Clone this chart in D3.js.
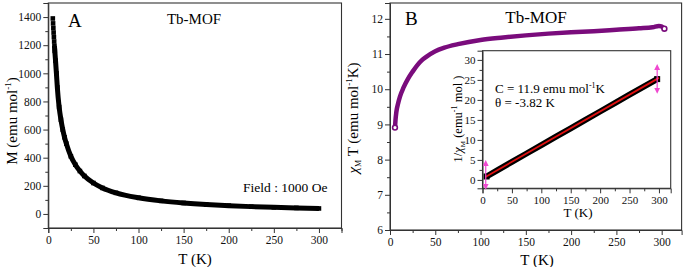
<!DOCTYPE html>
<html>
<head>
<meta charset="utf-8">
<script src="https://cdn.jsdelivr.net/npm/d3@7"></script>
<style>
  body { margin: 0; background: #fff; }
</style>
</head>
<body>
<div id="chart"></div>
<script>
//***************** data *******************/
// panel A : M vs T
var tempA = [5, 5.3, 5.6, 5.9, 6.2, 6.5, 6.8, 7.2, 8, 9, 10, 12, 14, 16, 18, 20, 25, 30, 35, 40, 50, 60, 75, 100, 125, 150, 175, 200, 225, 250, 275, 300];
var magA  = [1390, 1355, 1322, 1290, 1258, 1226, 1195, 1160, 1090, 1000, 900, 760, 670, 600, 545, 500, 410, 350, 305, 270, 220, 185, 150, 115, 93, 78, 67, 59, 52, 47, 43, 39];

// panel B : chiM*T vs T
var tempB = [5.5, 6, 7, 9, 11, 15, 20, 25, 30, 35, 40, 50, 60, 75, 100, 125, 150, 175, 200, 225, 250, 275, 290, 297, 300, 302, 303];
var chiTB = [8.91, 9.1, 9.35, 9.6, 9.79, 10.05, 10.3, 10.5, 10.68, 10.82, 10.92, 11.08, 11.18, 11.28, 11.4, 11.47, 11.53, 11.58, 11.62, 11.65, 11.69, 11.73, 11.76, 11.8, 11.78, 11.74, 11.72];

// inset : 1/chiM vs T, Curie-Weiss fit, error arrows
var tempIn = [7, 25, 50, 75, 100, 125, 150, 175, 200, 225, 250, 275, 297];
var invChi = [0.85, 2.4, 4.5, 6.6, 8.7, 10.8, 12.9, 15.0, 17.1, 19.2, 21.3, 23.4, 25.2];
var fitT   = [5, 300];
var fitInv = [0.74, 25.5];
var errT   = [5.5, 297];
var errLo  = [-1.7, 22.3];
var errHi  = [4.2, 28.2];

// tick labels
var ticksT    = [0, 50, 100, 150, 200, 250, 300];
var ticksM    = [0, 200, 400, 600, 800, 1000, 1200, 1400];
var ticksChiT = [6, 7, 8, 9, 10, 11, 12];
var ticksInv  = [0, 5, 10, 15, 20, 25, 30];

//************** setup svg  *****************/
var svg = d3.select("#chart")
  .append("svg")
    .attr("width", 685)
    .attr("height", 267);

//***************** scales *******************/
var xA = d3.scaleLinear().domain([0, 325]).range([48.3, 341.5]);
var yA = d3.scaleLinear().domain([-100, 1500]).range([228, 3]);

var xB = d3.scaleLinear().domain([0, 322]).range([390, 681.6]);
var yB = d3.scaleLinear().domain([6, 12.45]).range([230, 3]);

var xI = d3.scaleLinear().domain([0, 320]).range([482.5, 670.7]);
var yI = d3.scaleLinear().domain([-2.1, 32.3]).range([188.3, 50.7]);

//***************** axes helper *******************/
function midpoints(t) {
  var step = t[1] - t[0];
  var m = t.map(function(v) { return v - step / 2; });
  m.push(t[t.length - 1] + step / 2);
  return m;
}

function drawAxes(x, y, xt, yt, fs) {
  var xd = x.domain(), yd = y.domain();
  var inX = function(v) { return v >= xd[0] && v <= xd[1]; };
  var inY = function(v) { return v >= yd[0] && v <= yd[1]; };
  var g = svg.append("g");

  // white background + frame
  g.append("rect")
    .attr("x", x.range()[0]).attr("y", y.range()[1])
    .attr("width", x.range()[1] - x.range()[0])
    .attr("height", y.range()[0] - y.range()[1])
    .attr("fill", "#fff").attr("stroke", "#333").attr("stroke-width", 1.1);

  // minor ticks
  g.append("g")
    .attr("transform", "translate(0," + y.range()[0] + ")")
    .call(d3.axisBottom(x).tickValues(midpoints(xt).filter(inX)).tickSize(3).tickFormat(""))
    .call(function(a) { a.select(".domain").remove(); });
  g.append("g")
    .attr("transform", "translate(" + x.range()[0] + ",0)")
    .call(d3.axisLeft(y).tickValues(midpoints(yt).filter(inY)).tickSize(3).tickFormat(""))
    .call(function(a) { a.select(".domain").remove(); });

  // major ticks
  var gx = g.append("g")
    .attr("transform", "translate(0," + y.range()[0] + ")")
    .call(d3.axisBottom(x).tickValues(xt).tickSize(5).tickPadding(3).tickFormat(d3.format("d")));
  var gy = g.append("g")
    .attr("transform", "translate(" + x.range()[0] + ",0)")
    .call(d3.axisLeft(y).tickValues(yt).tickSize(5).tickPadding(2).tickFormat(d3.format("d")));

  [gx, gy].forEach(function(a) {
    a.select(".domain").attr("stroke", "#333");
    a.selectAll("text").style("font-size", fs + "px").attr("fill", "#111");
  });
  g.selectAll(".tick line").attr("stroke", "#333");
  return g;
}

//***************** panel A *******************/
drawAxes(xA, yA, ticksT, ticksM, 11.5);

var dataA = tempA.map(function(t, i) { return { t: t, v: magA[i] }; });

svg.append("path")
  .datum(dataA.filter(function(d) { return d.t >= 6.8; }))
  .attr("fill", "none")
  .attr("stroke", "#000")
  .attr("stroke-width", 5)
  .attr("d", d3.line()
    .x(function(d) { return xA(d.t); })
    .y(function(d) { return yA(d.v); })
    .curve(d3.curveMonotoneX));

svg.selectAll(".sqA")
  .data(dataA)
  .enter().append("rect")
    .attr("class", "sqA")
    .attr("x", function(d) { return xA(d.t) - 2.3; })
    .attr("y", function(d) { return yA(d.v) - 2.3; })
    .attr("width", 4.6)
    .attr("height", 4.6)
    .attr("fill", "#000");

svg.append("text").attr("x", 68).attr("y", 27).style("font-size", "19px").text("A");
svg.append("text").attr("x", 194).attr("y", 24).style("font-size", "15px").attr("text-anchor", "middle").text("Tb-MOF");
svg.append("text").attr("x", 243).attr("y", 192).style("font-size", "13.5px").text("Field : 1000 Oe");

// axis titles A
svg.append("text").attr("x", 195).attr("y", 264).style("font-size", "15px").attr("text-anchor", "middle").text("T (K)");
var labA = svg.append("text")
  .attr("transform", "translate(17,121) rotate(-90)")
  .style("font-size", "15px")
  .attr("text-anchor", "middle");
labA.append("tspan").text("M (emu mol");
labA.append("tspan").style("font-size", "9px").attr("dy", -6).text("-1");
labA.append("tspan").attr("dy", 6).text(")");

//***************** panel B *******************/
drawAxes(xB, yB, ticksT, ticksChiT, 11.5);

var dataB = tempB.map(function(t, i) { return { t: t, v: chiTB[i] }; });
var purple = "#7a0c7c";

svg.append("path")
  .datum(dataB)
  .attr("fill", "none")
  .attr("stroke", purple)
  .attr("stroke-width", 4.5)
  .attr("stroke-linejoin", "round")
  .attr("d", d3.line()
    .x(function(d) { return xB(d.t); })
    .y(function(d) { return yB(d.v); })
    .curve(d3.curveMonotoneX));

svg.selectAll(".cirB")
  .data([dataB[0], dataB[dataB.length - 1]])
  .enter().append("circle")
    .attr("cx", function(d) { return xB(d.t); })
    .attr("cy", function(d) { return yB(d.v); })
    .attr("r", 2.4)
    .attr("fill", "#fff")
    .attr("stroke", purple)
    .attr("stroke-width", 1.6);

svg.append("text").attr("x", 405).attr("y", 25).style("font-size", "19px").text("B");
svg.append("text").attr("x", 536).attr("y", 23).style("font-size", "17px").attr("text-anchor", "middle").text("Tb-MOF");

// axis titles B
svg.append("text").attr("x", 537).attr("y", 265).style("font-size", "15px").attr("text-anchor", "middle").text("T (K)");
var labB = svg.append("text")
  .attr("transform", "translate(358,118) rotate(-90)")
  .style("font-size", "15px")
  .attr("text-anchor", "middle");
labB.append("tspan").attr("font-style", "italic").text("χ");
labB.append("tspan").style("font-size", "8px").attr("dy", 3).text("M");
labB.append("tspan").attr("dy", -3).text(" T (emu mol");
labB.append("tspan").style("font-size", "9px").attr("dy", -6).text("-1");
labB.append("tspan").attr("dy", 6).text("K)");

//***************** inset *******************/
drawAxes(xI, yI, ticksT, ticksInv, 11);

var dataI = tempIn.map(function(t, i) { return { t: t, v: invChi[i] }; });
var lineI = d3.line()
  .x(function(d) { return xI(d.t); })
  .y(function(d) { return yI(d.v); });

svg.append("path")
  .datum(dataI)
  .attr("fill", "none")
  .attr("stroke", "#000")
  .attr("stroke-width", 6)
  .attr("d", lineI);

svg.selectAll(".sqI")
  .data([dataI[0], dataI[dataI.length - 1]])
  .enter().append("rect")
    .attr("x", function(d) { return xI(d.t) - 3; })
    .attr("y", function(d) { return yI(d.v) - 3; })
    .attr("width", 6).attr("height", 6).attr("fill", "#000");

svg.append("path")
  .datum(fitT.map(function(t, i) { return { t: t, v: fitInv[i] }; }))
  .attr("fill", "none")
  .attr("stroke", "#e01010")
  .attr("stroke-width", 1.8)
  .attr("d", lineI);

// error arrows
var pink = "#f048d0";
svg.append("defs").append("marker")
  .attr("id", "arr")
  .attr("viewBox", "0 0 10 10")
  .attr("refX", 5).attr("refY", 5)
  .attr("markerWidth", 5).attr("markerHeight", 5)
  .attr("orient", "auto-start-reverse")
  .append("path").attr("d", "M0,0 L10,5 L0,10 z").attr("fill", pink);

svg.selectAll(".errI")
  .data(errT.map(function(t, i) { return { t: t, lo: errLo[i], hi: errHi[i] }; }))
  .enter().append("line")
    .attr("x1", function(d) { return xI(d.t); })
    .attr("x2", function(d) { return xI(d.t); })
    .attr("y1", function(d) { return yI(d.lo); })
    .attr("y2", function(d) { return yI(d.hi); })
    .attr("stroke", pink)
    .attr("stroke-width", 1.2)
    .attr("marker-start", "url(#arr)")
    .attr("marker-end", "url(#arr)");

// annotations
var cTxt = svg.append("text").attr("x", 495).attr("y", 93).style("font-size", "13px");
cTxt.append("tspan").text("C = 11.9 emu mol");
cTxt.append("tspan").style("font-size", "8px").attr("dy", -5).text("-1");
cTxt.append("tspan").attr("dy", 5).text("K");
svg.append("text").attr("x", 495).attr("y", 107).style("font-size", "13px").text("θ = -3.82 K");

// inset axis titles
svg.append("text").attr("x", 578).attr("y", 217).style("font-size", "13px").attr("text-anchor", "middle").text("T (K)");
var labI = svg.append("text")
  .attr("transform", "translate(462,119) rotate(-90)")
  .style("font-size", "12.5px")
  .attr("text-anchor", "middle");
labI.append("tspan").text("1/");
labI.append("tspan").attr("font-style", "italic").text("χ");
labI.append("tspan").style("font-size", "7px").attr("dy", 3).text("M");
labI.append("tspan").attr("dy", -3).text(" (emu");
labI.append("tspan").style("font-size", "8px").attr("dy", -5).text("-1");
labI.append("tspan").attr("dy", 5).text(" mol )");

// serif font everywhere
svg.selectAll("text").style("font-family", "'Liberation Serif', 'Times New Roman', serif");
</script>
</body>
</html>
